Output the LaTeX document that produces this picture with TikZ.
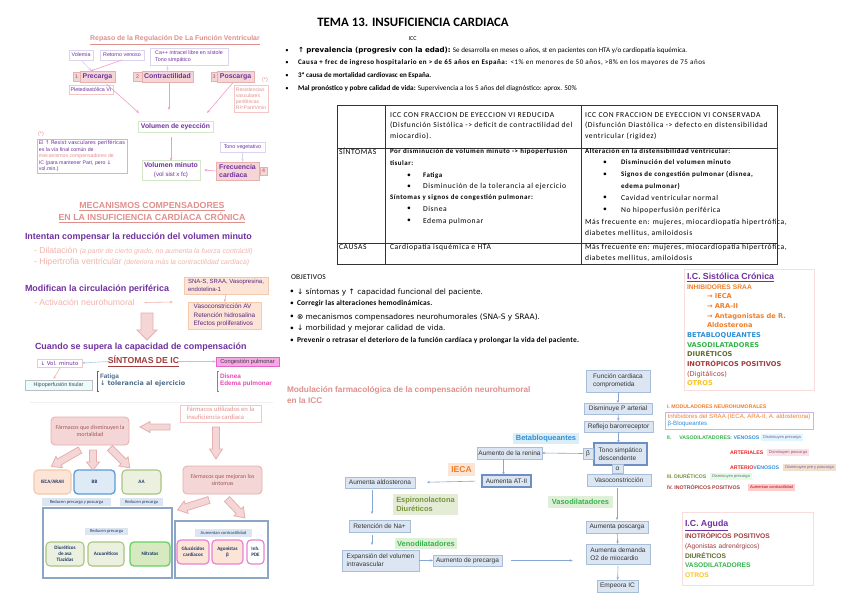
\documentclass[tikz,border=0pt]{standalone}
\usepackage{fontspec}
\setmainfont{Liberation Sans}
\newfontfamily\calib{Carlito}
\newfontfamily\calT[LetterSpace=8]{Carlito}
\newfontfamily\calO[LetterSpace=3]{Carlito}
\newfontfamily\calL[LetterSpace=7]{Carlito}
\newfontfamily\djv{DejaVu Sans}
\usetikzlibrary{arrows.meta,calc}
\newcommand\fs[2]{\fontsize{#1pt}{#2pt}\selectfont}
\definecolor{purp}{HTML}{7030A0}
\definecolor{salm}{HTML}{E0908C}
\definecolor{lsalm}{HTML}{F2B4AC}
\definecolor{pinkf}{HTML}{F4D6D6}
\definecolor{pinkd}{HTML}{E9AEAE}
\definecolor{pinkl}{HTML}{F5C6C6}
\definecolor{lav}{HTML}{DCD3EE}
\definecolor{lgd}{HTML}{D5E7CB}
\definecolor{arrp}{HTML}{F59BC8}
\definecolor{peachf}{HTML}{FCE4D6}
\definecolor{peachd}{HTML}{F4C9AC}
\definecolor{lbluef}{HTML}{DEEBF7}
\definecolor{blued}{HTML}{5B9BD5}
\definecolor{greenf}{HTML}{EBF1DE}
\definecolor{greend}{HTML}{A9C47F}
\definecolor{navy}{HTML}{1F3864}
\definecolor{magf}{HTML}{F7A6E6}
\definecolor{magd}{HTML}{E562C9}
\definecolor{magt}{HTML}{E84BB8}
\definecolor{steel}{HTML}{4E6E8E}
\definecolor{dred}{HTML}{A23B3B}
\definecolor{flowf}{HTML}{DCE6F2}
\definecolor{flowd}{HTML}{A8BDD8}
\definecolor{floww}{HTML}{6E8FC2}
\definecolor{arrb}{HTML}{86A6D4}
\definecolor{lblb}{HTML}{DAEEF8}
\definecolor{txtb}{HTML}{2F8FD8}
\definecolor{lblg}{HTML}{E0F0D8}
\definecolor{txtg}{HTML}{35B44A}
\definecolor{lblo}{HTML}{E5ECD6}
\definecolor{txto}{HTML}{76933C}
\definecolor{orng}{HTML}{F07F2A}
\definecolor{oliv}{HTML}{5E6B2F}
\definecolor{gold}{HTML}{F8C31C}
\definecolor{redt}{HTML}{E8262A}
\definecolor{inored}{HTML}{A33B3B}
\definecolor{lavd}{HTML}{C8B6E2}
\definecolor{bigd}{HTML}{8EA6C6}
\definecolor{rtxt}{HTML}{A05858}
\definecolor{tagt}{HTML}{7A5A9A}
\newcommand\harr[7]{\draw[draw=pinkd, fill=pinkf, line width=0.6pt, shift={(#1,#2)}, rotate=#3] (0,-#5) -- ({#4-#7},-#5) -- ({#4-#7},-#6) -- (#4,0) -- ({#4-#7},#6) -- ({#4-#7},#5) -- (0,#5) -- cycle;}
\tikzset{
 wh/.style 2 args={minimum width={#1*0.75pt}, minimum height={#2*0.75pt}},
 sbox/.style={draw=lav, line width=0.5pt, fill=white, text=purp, font=\fs{4}{4.8}, align=left},
 pbox/.style={draw=pinkd, fill=pinkf, line width=0.6pt, text=purp, font=\bfseries\fs{5.2}{6}, align=left},
 nbox/.style={draw=pinkd, fill=pinkf, line width=0.6pt, text=rtxt, font=\fs{4}{5}},
 arl/.style={-{Stealth[length=2.4pt,width=1.9pt]}, line width=0.45pt, draw=arrp},
 hd/.style={font=\bfseries\fs{6.7}{8}, text=purp, anchor=west},
 rbox/.style={draw=pinkd, fill=pinkf, rounded corners=3pt, line width=0.6pt, text=rtxt, font=\calib\fs{4.5}{5.6}, align=center},
 dbox/.style={rounded corners=3pt, line width=0.8pt, font=\calib\bfseries\fs{3.8}{4.6}, text=navy, align=center},
 lblc/.style={fill=flowf, font=\calib\fs{3.4}{4}, text=navy},
 fbox/.style={draw=flowd, fill=flowf, line width=0.5pt, font=\fs{4.9}{5.9}, align=left, text=black!80},
 fa/.style={-{Stealth[length=2.2pt,width=1.8pt]}, line width=0.45pt, draw=arrb},
 flbl/.style={font=\bfseries\fs{5.6}{6.8}, align=left},
 tt/.style={anchor=west, font=\calT\fs{5.7}{6.5}},
 tb/.style={anchor=west, font=\calT\bfseries\fs{5.2}{6.5}},
 ot/.style={anchor=west, font=\calO\fs{5.6}{6.5}},
 ob/.style={anchor=west, font=\calO\bfseries\fs{5.6}{6.5}},
 tag/.style={font=\fs{3}{3.5}, text=tagt},
 rl/.style={anchor=west, font=\bfseries\fs{3.9}{4.5}},
}
\begin{document}
\begin{tikzpicture}[x=0.75pt,y=-0.75pt, every node/.style={inner sep=0pt, outer sep=0pt}]
\useasboundingbox[fill=white] (0,0) rectangle (848,599);

% ===== Section A =====
\node[font=\bfseries\fs{5.2}{6}, text=salm] (tA) at (175,40) {\underline{Repaso de la Regulación De La Función Ventricular}};
\node[sbox, wh={24}{10}] (vol) at (81,55) {Volemia};
\node[sbox, wh={44}{10}] (ret) at (122,55) {Retorno venoso};
\node[sbox, wh={78}{17}] (ca) at (189,56.5) {Ca++ intracel libre en sístole\\Tono simpático};
\node[nbox, wh={7}{9}] (n1) at (76.5,77) {1};
\node[pbox, wh={35}{11}] (pre) at (97.5,76.5) {Precarga};
\node[nbox, wh={9}{9}] (n2) at (137.5,77) {2};
\node[pbox, wh={51}{11}] (con) at (167.5,76.5) {Contractilidad};
\node[nbox, wh={6}{9}] (n3) at (214,77) {3};
\node[pbox, wh={37}{11}] (pos) at (235.5,76.5) {Poscarga};
\node[font=\fs{4}{5}, text=salm] (as1) at (265,80) {(*)};
\node[draw=pinkl, line width=0.5pt, fill=white, text=salm, font=\fs{3.8}{4.6}, align=left, wh={34}{27}] (res) at (251,98.5) {Resistencias\\vasculares\\periféricas\\RI=Part/Vmin};
\node[sbox, wh={44}{9}, draw=pinkl] (ple) at (91,89.5) {Pletediastólica VI};
\node[draw=lgd, line width=0.6pt, fill=white, text=purp, font=\bfseries\fs{5.1}{6}, wh={75}{11}] (ve) at (175.5,126.5) {Volumen de eyección};
\node[draw=lgd, line width=0.6pt, fill=white, text=purp, font=\fs{4.6}{6.2}, align=center, wh={58}{20}] (vm) at (171,170) {{\bfseries\fs{5.2}{6}Volumen minuto}\\(vol sist x fc)};
\node[sbox, wh={45}{10}] (tv) at (242.5,147) {Tono vegetativo};
\node[pbox, wh={43}{18}] (fc) at (237.5,171) {Frecuencia\\cardiaca};
\node[nbox, wh={7}{8}] (n4) at (263.5,171) {4};
\node[font=\fs{4}{5}, text=salm] (as2) at (41,134.5) {(*)};
\node[draw=pinkd, line width=0.6pt, fill=white, text=purp, font=\fs{3.9}{4.9}, align=left, wh={90}{34}] (el) at (82,156) {El \djv{↑} Resist vasculares periféricas\\es la vía final común de\\\color{salm}mecanismos compensadores de\\IC \color{purp}(para mantener Part, pero \djv{↓}\\vol.min.)};

\draw[arl, draw=lav] (vol.south) -- ($(pre.north)+(-6,0)$);
\draw[arl] (ret.south) -- ($(pre.north)+(-7,0)$);
\draw[arl, draw=lav] (ca.south -| con.north) -- (con.north);
\draw[arl] ($(pre.south)+(9,2)$) -- ($(ve.north west)+(1,-8)$);
\draw[arl] ($(con.south)+(1.5,0)$) -- ($(ve.north)+(-6.5,-11)$);
\draw[arl] ($(pos.south)+(-2,0)$) -- ($(ve.north east)+(-6,-8)$);
\draw[arl] ($(ve.south)+(-4.5,5)$) -- ($(vm.north)+(0,1)$);
\draw[arl, draw=lav] (tv.south) -- (tv.south |- fc.north);
\draw[arl] (fc.west) -- ($(vm.east)+(4,0)$);

% ===== Section B =====
\node[font=\bfseries\fs{6.6}{7.8}, text=salm, align=center] (tB) at (152,213) {\underline{MECANISMOS COMPENSADORES}\\\underline{EN LA INSUFICIENCIA CARDÍACA CRÓNICA}};
\node[hd] (int) at (25,237.5) {Intentan compensar la reducción del volumen minuto};
\node[anchor=west, text=lsalm, font=\fs{6.5}{8}] (dil) at (34,251) {- Dilatación {\itshape\fs{5.2}{6}(a partir de cierto grado, no aumenta la fuerza contráctil)}};
\node[anchor=west, text=lsalm, font=\fs{6.5}{8}] (hip) at (34,262.5) {- Hipertrofia ventricular {\itshape\fs{5.2}{6}(deteriora más la contractilidad cardiaca)}};
\node[hd] (mod) at (25,289) {Modifican la circulación periférica};
\node[anchor=west, text=lsalm, font=\fs{6.5}{8}] (act) at (34,302.5) {- Activación neurohumoral};
\coordinate (actend) at (173,302);
\draw[arl, draw=lsalm] ($(act.east)+(10,0)$) -- (actend);
\node[draw=peachd, fill=peachf, line width=0.5pt, text=purp!80!black, font=\fs{4.5}{5.6}, align=left, wh={84}{17}] (sna) at (226,285.5) {SNA-S, SRAA, Vasopresina,\\endotelina-1};
\node[draw=peachd, fill=peachf, line width=0.5pt, text=purp!80!black, font=\fs{4.8}{6.2}, align=left, wh={73}{27}] (vaso) at (224.5,315.5) {Vasoconstricción AV\\Retención hidrosalina\\Efectos proliferativos};
\draw[arl, draw=lsalm] (sna.south) -- (vaso.north);
\harr{147}{313}{-90}{27}{6}{10}{10}
\node[hd] (cua) at (35,347.5) {Cuando se supera la capacidad de compensación};
\node[font=\bfseries\fs{6.5}{8}, text=dred] (sin) at (143.5,361.5) {\underline{SÍNTOMAS DE IC}};
\node[draw=pinkl, line width=0.5pt, fill=white, text=purp, font=\fs{4.1}{5}, wh={45}{8}] (vmin) at (59.5,363) {\djv{↓} Vol. minuto};
\node[draw=magd, fill=magf, line width=0.5pt, text=black!75, font=\fs{4.3}{5}, wh={63}{9}] (cong) at (247.5,361.5) {Congestión pulmonar};
\draw[arl, draw=lbluef!60!blued] (sin.west) -- (vmin.east);
\draw[arl, draw=lbluef!60!blued] (sin.east) -- (cong.west);
\node[draw=gray!50, fill=lbluef!70!cyan!20, line width=0.5pt, text=black!70, font=\fs{4.1}{5}, wh={67}{10}] (hipo) at (58.5,385) {Hipoperfusión tisular};
\draw[arl, draw=lsalm] ($(vmin.south)+(0.5,1)$) -- ($(hipo.north)+(-5,-1)$);
\draw[steel, line width=0.4pt] (99,371) -- (97,371) -- (97,391) -- (99,391);
\node[anchor=west, text=steel, font=\bfseries\fs{4.8}{5.6}, align=left] (fat) at (100,380.5) {Fatiga\\\djv{↓} tolerancia al ejercicio};
\draw[magt, line width=0.4pt] (219,371) -- (217,371) -- (217,391) -- (219,391);
\node[anchor=west, text=magt, font=\bfseries\fs{4.8}{5.6}, align=left] (dis) at (220,380.5) {Disnea\\Edema pulmonar};

% ===== Section C =====
\draw[gray!12, line width=0.4pt] (30,402) -- (273,402);
\node[draw=pinkl, line width=0.6pt, font=\calib\fs{5}{6}, text=salm, align=left, wh={81}{17}] (fu) at (220.5,413.5) {Fármacos utilizados en la\\insuficiencia cardiaca};
\node[rbox, wh={78}{28}] (fdm) at (90,431) {Fármacos que disminuyen la\\mortalidad};
\node[rbox, wh={79}{28}] (fms) at (222.5,480) {Fármacos que mejoran los\\síntomas};
\node[dbox, draw=peachd, fill=peachf, wh={37}{24}] (ieca) at (52.5,482) {IECA/ARAII};
\node[dbox, draw=blued, fill=lbluef, line width=1pt, wh={41}{24}] (bb) at (94.5,482) {BB};
\node[dbox, draw=greend, fill=greenf, wh={39}{24}] (aa) at (141.5,482) {AA};
\node[lblc, wh={69}{8}] (rpp) at (76.5,502) {Reducen precarga y poscarga};
\node[lblc, wh={43}{8}] (rp1) at (141.5,502) {Reducen precarga};
\node[draw=bigd, line width=0.9pt, wh={129}{70}] (bigL) at (107.5,543) {};
\node[lblc, wh={43}{7}] (rp2) at (106.5,531.5) {Reducen precarga};
\node[dbox, draw=greend, fill=greenf, wh={38}{24}] (diu) at (65,554) {Diuréticos\\de asa\\Tiazidas};
\node[dbox, draw=greend, fill=greenf, wh={36}{24}] (acu) at (106,554) {Acuaréticos};
\node[dbox, draw=green!70!black!60, fill=green!30!olive!25, line width=1pt, wh={40}{24}] (nit) at (150,554) {Nitratos};
\node[draw=bigd, line width=0.9pt, wh={93}{57}] (bigR) at (221.5,549.5) {};
\node[lblc, wh={57}{8}] (acon) at (223.5,533) {Aumentan contractilidad};
\node[dbox, draw=magd!80, fill=peachf, line width=0.9pt, wh={32}{24}] (glu) at (193,552) {Glucósidos\\cardíacos};
\node[dbox, draw=magd!80, fill=peachf, line width=0.9pt, wh={31}{24}] (ago) at (227.5,552) {Agonistas\\β};
\node[dbox, draw=magd!80, fill=white, line width=0.9pt, wh={17}{24}] (inh) at (255.5,552) {Inh.\\PDE};
\harr{170}{427}{180}{30}{3}{5.5}{10}
\harr{216}{427}{-90}{32}{3.5}{6.5}{10}
\harr{80}{450}{-150}{33}{3.5}{6.5}{9}
\harr{93}{450}{-90}{20}{3.5}{6.5}{8}
\harr{110}{448}{-45}{28}{3.5}{6.5}{9}
\harr{209}{500}{-162.6}{33}{3.5}{6.5}{9}
\harr{227}{499}{-46.5}{26}{3.5}{6.5}{9}

% ===== Top text =====
\node[font=\calib\bfseries\fs{9.6}{11}] (T) at (413,22) {TEMA 13. INSUFICIENCIA CARDIACA};
\node[font=\calib\fs{4.5}{5}] (icc) at (412.5,38.5) {ICC};
\foreach \yy/\nm in {50.5/b1,63/b2,76/b3,88.5/b4} {\node[font=\calib\fs{5}{6}] (\nm) at (287,\yy) {•};}
\node[anchor=west, font=\calib\fs{5.3}{6}] (l1) at (298,50.5) {\textbf{\djv{↑} prevalencia (progresiv con la edad):} Se desarrolla en meses o años, st en pacientes con HTA y/o cardiopatía isquémica.};
\node[anchor=west, font=\calL\fs{5.3}{6}] (l2) at (298,63) {\textbf{Causa + frec de ingreso hospitalario en > de 65 años en España:} <1\% en menores de 50 años, >8\% en los mayores de 75 años};
\node[anchor=west, font=\calib\bfseries\fs{5.3}{6}] (l3) at (298,76) {3ª causa de mortalidad cardiovasc en España.};
\node[anchor=west, font=\calib\fs{5.4}{6}] (l4) at (298,88.5) {\textbf{Mal pronóstico y pobre calidad de vida:} Supervivencia a los 5 años del diagnóstico: aprox. 50\%};

% ===== Table =====
\draw[black!80, line width=0.5pt] (337,105) rectangle (777,264);
\draw[black!80, line width=0.5pt] (385,105) -- (385,264) (581,105) -- (581,264) (337,148) -- (777,148) (337,243) -- (777,243);
\node[tt] (c1) at (390,115) {ICC CON FRACCION DE EYECCION VI REDUCIDA};
\node[tt] (c2) at (390,125.5) {(Disfunción Sistólica -> deficit de contractilidad del};
\node[tt] (c3) at (390,136) {miocardio).};
\node[tt] (c4) at (585,115) {ICC CON FRACCION DE EYECCION VI CONSERVADA};
\node[tt] (c5) at (585,125.5) {(Disfunción Diastólica -> defecto en distensibilidad};
\node[tt] (c6) at (585,136) {ventricular (rigidez)};
\node[tt] (s0) at (339,151.5) {SÍNTOMAS};
\node[tb] (s1) at (390,151.5) {Por disminución de volumen minuto -> hipoperfusión};
\node[tb] (s2) at (390,163.5) {tisular:};
\node[tt] (s3b) at (407,175.5) {•};
\node[tb] (s3) at (423,175.5) {Fatiga};
\node[tt] (s4b) at (407,186.5) {•};
\node[tt] (s4) at (423,186.5) {Disminución de la tolerancia al ejercicio};
\node[tb] (s5) at (390,198) {Síntomas y signos de congestión pulmonar:};
\node[tt] (s6b) at (407,209) {•};
\node[tt] (s6) at (423,209) {Disnea};
\node[tt] (s7b) at (407,221) {•};
\node[tt] (s7) at (423,221) {Edema pulmonar};
\node[tb] (d1) at (585,151.5) {Alteración en la distensibilidad ventricular:};
\node[tt] (d2b) at (603,162.5) {•};
\node[tb] (d2) at (621,162.5) {Disminución del volumen minuto};
\node[tt] (d3b) at (603,174.5) {•};
\node[tb] (d3) at (621,174.5) {Signos de congestión pulmonar (disnea,};
\node[tb] (d4) at (621,186) {edema pulmonar)};
\node[tt] (d5b) at (603,198) {•};
\node[tt] (d5) at (621,198) {Cavidad ventricular normal};
\node[tt] (d6b) at (603,210) {•};
\node[tt] (d6) at (621,210) {No hipoperfusión periférica};
\node[tt] (d7) at (585,222.5) {Más frecuente en: mujeres, miocardiopatía hipertrófica,};
\node[tt] (d8) at (585,233.5) {diabetes mellitus, amiloidosis};
\node[tt] (k0) at (339,247.5) {CAUSAS};
\node[tt] (k1) at (390,247.5) {Cardiopatía isquémica e HTA};
\node[tt] (k2) at (585,247.5) {Más frecuente en: mujeres, miocardiopatía hipertrófica,};
\node[tt] (k3) at (585,258) {diabetes mellitus, amiloidosis};

% ===== Objetivos =====
\node[ot] (obj) at (291,277) {OBJETIVOS};
\foreach \yy/\nm in {292/o1b,304/o2b,317/o3b,328.5/o4b,340.5/o5b} {\node[ot] (\nm) at (290,\yy) {•};}
\node[ot] (o1) at (297,292) {\djv{↓} síntomas y \djv{↑} capacidad funcional del paciente.};
\node[ob] (o2) at (297,304) {Corregir las alteraciones hemodinámicas.};
\node[ot] (o3) at (297,317) {\djv{⊗} mecanismos compensadores neurohumorales (SNA-S y SRAA).};
\node[ot] (o4) at (297,328.5) {\djv{↓} morbilidad y mejorar calidad de vida.};
\node[ob] (o5) at (297,340.5) {Prevenir o retrasar el deterioro de la función cardíaca y prolongar la vida del paciente.};

% ===== IC Sistolica box =====
\node[draw=pinkl!60, line width=0.5pt, text width={124*0.75pt}, inner xsep={3*0.75pt}, align=left, font=\bfseries\fs{5.0}{7.25}, wh={130}{121}] (ics) at (749,329.5) {\color{purp}\fs{6.6}{7.25}\underline{I.C. Sistólica Crónica}\fs{5.0}{7.25}\\\color{orng}INHIBIDORES SRAA\\\hspace*{15pt}\djv{→} IECA\\\hspace*{15pt}\djv{→} ARA-II\\\hspace*{15pt}\djv{→} Antagonistas de R.\\\hspace*{15pt}Aldosterona\\\color{txtb}BETABLOQUEANTES\\\color{txtg}VASODILATADORES\\\color{oliv}DIURÉTICOS\\\color{inored}INOTRÓPICOS POSITIVOS\\\mdseries(Digitálicos)\\\bfseries\color{gold}OTROS};

% ===== IC Aguda box =====
\node[draw=pinkl!60, line width=0.5pt, text width={125*0.75pt}, inner xsep={3*0.75pt}, align=left, font=\bfseries\fs{5.0}{7.25}, wh={131}{73}] (ica) at (747.5,549) {\color{purp}\fs{6.6}{7.25}\underline{I.C. Aguda}\fs{5.0}{7.25}\\\color{inored}INOTRÓPICOS POSITIVOS\\\mdseries(Agonistas adrenérgicos)\\\bfseries\color{oliv}DIURÉTICOS\\\color{txtg}VASODILATADORES\\\color{gold}OTROS};

% ===== Right middle list =====
\node[rl, text=orng] (m1) at (667,407) {I. MODULADORES NEUROHUMORALES};
\node[draw=lavd, line width=0.7pt, wh={148}{17}, align=left, font=\fs{4.6}{5.6}] (m1b) at (739,420.5) {\color{orng}Inhibidores del SRAA (IECA, ARA-II, A. aldosterona)\\\color{txtb}β-Bloqueantes};
\node[rl] (m2) at (667,438) {\color{txtg}II.\hspace{6pt}VASODILATADORES: \color{txtb}VENOSOS};
\node[tag, fill=cyan!12, wh={42}{7}] (m2t) at (782,437.5) {Disminuyen precarga};
\node[rl, text=redt] (m3) at (730,452.5) {ARTERIALES};
\node[tag, fill=red!12, wh={42}{7}] (m3t) at (788,452.5) {Disminuyen poscarga};
\node[rl] (m4) at (730,467.5) {\color{redt}ARTERIO\color{txtb}VENOSOS};
\node[tag, fill=brown!25, wh={53}{7}] (m4t) at (809.5,467.5) {Disminuyen pre y poscarga};
\node[rl, text=txto] (m5) at (667,476.5) {III. DIURÉTICOS};
\node[tag, fill=green!12, wh={42}{7}] (m5t) at (731,476.5) {Disminuyen precarga};
\node[rl, text=inored] (m6) at (667,487.5) {IV. INOTRÓPICOS POSITIVOS};
\node[tag, fill=red!20, text=red!70!black, wh={47}{7}] (m6t) at (771.5,487.5) {Aumentan contractilidad};

% ===== Flow =====
\node[font=\bfseries\fs{6.2}{7.6}, text=salm, align=left, anchor=west] (tM) at (287,395) {Modulación farmacológica de la compensación neurohumoral\\en la ICC};
\node[fbox, wh={64}{22}] (f1) at (618,381) {Función cardiaca\\comprometida};
\node[fbox, wh={68}{11}] (f2) at (618,408.5) {Disminuye P arterial};
\node[fbox, wh={69}{11}] (f3) at (618.5,426.5) {Reflejo barorreceptor};
\node[fbox, draw=floww, line width=1pt, wh={53}{22}] (f4) at (620.5,454) {Tono simpático\\descendente};
\node[fbox, wh={10}{11}] (beta) at (588,453.5) {β};
\node[fbox, wh={11}{9}] (alfa) at (617.5,468.5) {α};
\node[fbox, wh={64}{12}] (f5) at (619,480) {Vasoconstricción};
\node[flbl, fill=lblb, text=txtb, wh={66}{11}] (lbb) at (546,438.5) {Betabloqueantes};
\node[fbox, wh={65}{12}] (ren) at (509.5,453) {Aumento de la renina};
\node[flbl, fill=peachf, text=orng, font=\bfseries\fs{6.4}{7.6}, wh={27}{13}] (lie) at (461.5,469.5) {IECA};
\node[fbox, draw=floww, line width=0.9pt, wh={49}{12}] (at2) at (506.5,481) {Aumenta AT-II};
\node[fbox, wh={70}{11}] (ald) at (380,482.5) {Aumenta aldosterona};
\node[flbl, fill=lblo, text=txto, wh={65}{21}] (lesp) at (425.5,504.5) {Espironolactona\\Diuréticos};
\node[fbox, wh={61}{12}] (na) at (379.5,526) {Retención de Na+};
\node[flbl, fill=lblg, text=txtg, wh={62}{11}] (lven) at (426,543.5) {Venodilatadores};
\node[fbox, wh={77}{21}] (exp) at (380.5,560.5) {Expansión del volumen\\intravascular};
\node[fbox, wh={69}{11}] (apc) at (467.5,560.5) {Aumento de precarga};
\node[flbl, fill=lblg, text=txtg, wh={65}{12}] (lvas) at (580.5,502) {Vasodilatadores};
\node[fbox, wh={62}{12}] (apo) at (617,527) {Aumenta poscarga};
\node[fbox, wh={64}{20}] (dem) at (618,554) {Aumenta demanda\\O2 de miocardio};
\node[fbox, wh={41}{12}] (emp) at (617.5,586) {Empeora IC};

\draw[fa] (f1) -- (f2);
\draw[fa] (f2) -- (f3);
\draw[fa] (f3.south) -- (f3.south |- f4.north);
\draw[fa] (beta.west) -- (ren.east);
\draw[fa] ($(ren.south)+(-6,0)$) -- ($(ren.south |- at2.north)+(-6,0)$);
\draw[fa, shorten <=5pt, shorten >=9pt] (at2.west) -- (ald.east);
\draw[fa] ($(ald.south)+(-8,2)$) -- ($(na.north)+(-7.5,-6)$);
\draw[fa] ($(na.south)+(-7.5,3)$) -- ($(exp.north)+(-8.5,-5)$);
\draw[fa] (exp.east) -- (apc.west);
\draw[fa, shorten <=7pt, shorten >=10pt] (apc.east) -- (apc.east -| dem.west);
\draw[fa] ($(f5.south)+(-2,2)$) -- ($(apo.north)+(0,-1)$);
\draw[fa] (apo) -- (dem);
\draw[fa] ($(dem.south)+(0,2)$) -- (emp);
\end{tikzpicture}
\end{document}
